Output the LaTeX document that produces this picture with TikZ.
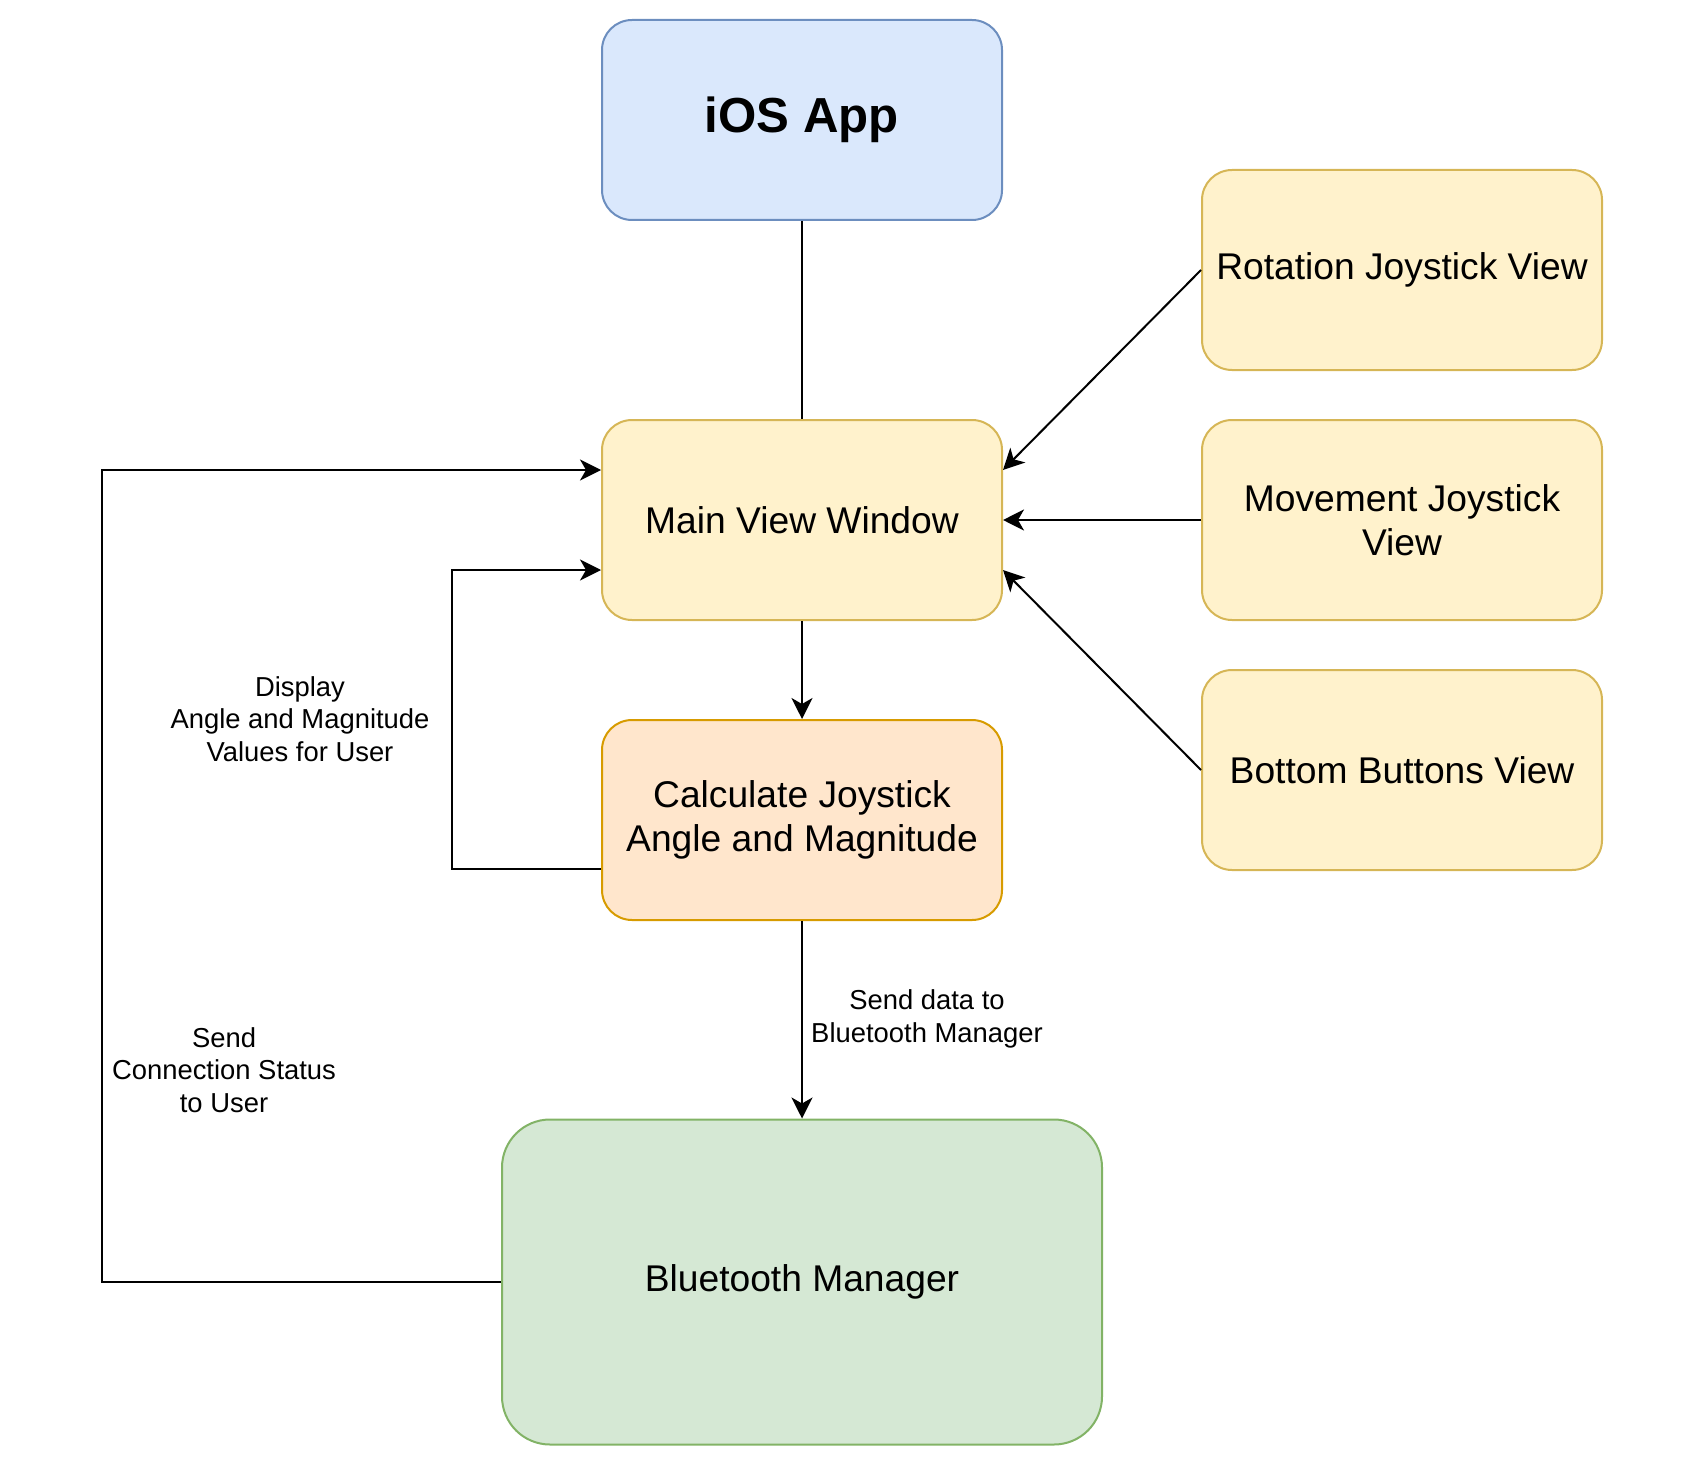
\documentclass[tikz,border=0pt]{standalone}
\usepackage{fontspec}
\setmainfont{Liberation Sans}
\usetikzlibrary{arrows.meta}
\definecolor{bluefill}{HTML}{DAE8FC}
\definecolor{bluedraw}{HTML}{6C8EBF}
\definecolor{yelfill}{HTML}{FFF2CC}
\definecolor{yeldraw}{HTML}{D6B656}
\definecolor{orgfill}{HTML}{FFE6CC}
\definecolor{orgdraw}{HTML}{D79B00}
\definecolor{grnfill}{HTML}{D5E8D4}
\definecolor{grndraw}{HTML}{82B366}
\tikzset{
    box/.style={rectangle, rounded corners=15pt, line width=1pt, align=center,
        minimum width=200pt, minimum height=100pt, inner sep=0pt,
        font=\fontsize{18.6}{22.2}\selectfont},
    yelbox/.style={box, fill=yelfill, draw=yeldraw},
    lbl/.style={align=center, inner sep=0pt, font=\fontsize{13.7}{16.3}\selectfont},
    wire/.style={line width=1pt},
    arr/.style={wire, -{Stealth[length=10.5pt, width=10.5pt, inset=3pt]}}
}

\begin{document}
\begin{tikzpicture}[x=0.5pt, y=-0.5pt]
  \useasboundingbox (0,0) rectangle (1700,1460);

  \node[box, fill=bluefill, draw=bluedraw, font=\fontsize{24.6}{29}\selectfont\bfseries] (ios) at (802,120) {iOS App};
  \node[yelbox] (main) at (802,520) {Main View Window};
  \node[box, fill=orgfill, draw=orgdraw] (calc) at (802,820) {Calculate Joystick\\Angle and Magnitude};
  \node[box, fill=grnfill, draw=grndraw, minimum width=300pt, minimum height=162.5pt, rounded corners=24pt] (bt) at (802,1282) {Bluetooth Manager};

  \node[yelbox] (rot) at (1402,270) {Rotation Joystick View};
  \node[yelbox] (mov) at (1402,520) {Movement Joystick\\View};
  \node[yelbox] (btn) at (1402,770) {Bottom Buttons View};

  \node[lbl] (ldisp) at (300,719) {Display\\Angle and Magnitude\\Values for User};
  \node[lbl] (lconn) at (224,1070) {Send\\Connection Status\\to User};
  \node[lbl] (lsend) at (927,1019) {Send data to\\Bluetooth Manager};

  \coordinate (c1) at (452,869);
  \coordinate (c2) at (452,570);
  \coordinate (c3) at (102,1282);
  \coordinate (c4) at (102,470);

  \draw[wire] (ios) -- (main);
  \draw[arr] (main) -- (calc);
  \draw[arr] (calc) -- (bt);
  \draw[arr] (rot.west) -- (main.east |- c4);
  \draw[arr] (mov) -- (main);
  \draw[arr] (btn.west) -- (main.east |- c2);
  \draw[arr] (calc.west |- c1) -- (c1) -- (c2) -- (main.west |- c2);
  \draw[arr] (bt.west) -- (c3) -- (c4) -- (main.west |- c4);
\end{tikzpicture}
\end{document}
